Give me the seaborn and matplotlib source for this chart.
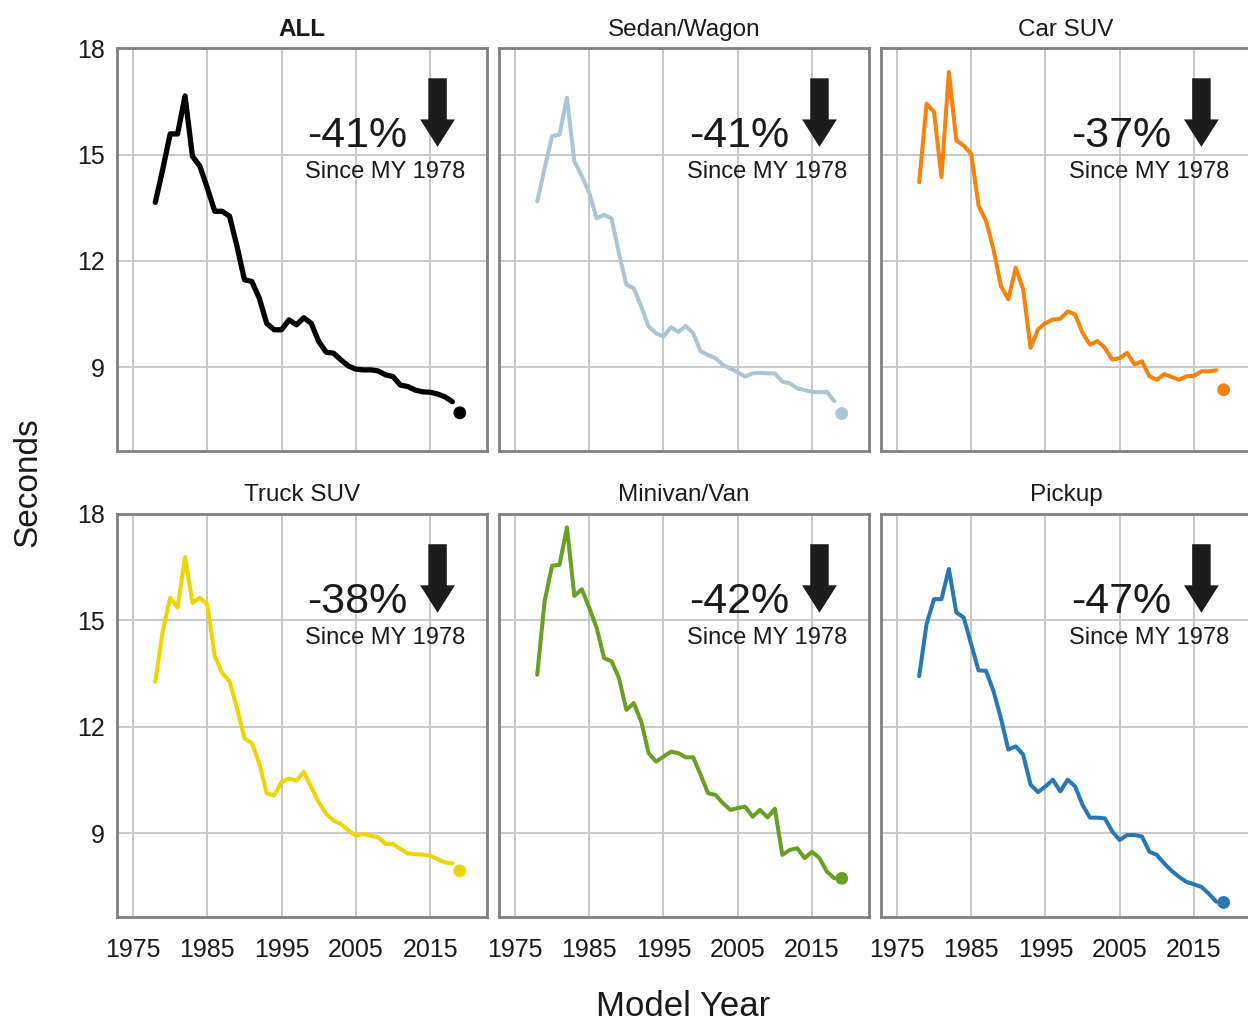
import numpy as np
import pandas as pd
import seaborn as sns
import matplotlib.pyplot as plt
from matplotlib.patches import FancyArrow

years = list(range(1978, 2019))
prelim_year = 2019

classes = ["ALL", "Sedan/Wagon", "Car SUV", "Truck SUV", "Minivan/Van", "Pickup"]
colors = ["#000000", "#a9c6d6", "#f8820c", "#f0d400", "#68a024", "#2878b8"]
pct_change = ["-41%", "-41%", "-37%", "-38%", "-42%", "-47%"]

all_vals = [13.65, 14.58, 15.58, 15.58, 16.65, 14.95, 14.67, 14.06, 13.4, 13.4,
            13.26, 12.41, 11.47, 11.42, 10.95, 10.24, 10.06, 10.06, 10.34, 10.2,
            10.4, 10.24, 9.73, 9.43, 9.4, 9.21, 9.04, 8.95, 8.93, 8.93,
            8.9, 8.79, 8.74, 8.5, 8.46, 8.36, 8.31, 8.3, 8.25, 8.17, 8.03]
sedan_vals = [13.68, 14.62, 15.52, 15.56, 16.6, 14.81, 14.39, 13.92, 13.2, 13.3,
              13.2, 12.22, 11.33, 11.23, 10.72, 10.15, 9.96, 9.87, 10.13, 10.0,
              10.17, 9.96, 9.45, 9.35, 9.26, 9.07, 8.97, 8.86, 8.74, 8.83,
              8.85, 8.83, 8.83, 8.6, 8.55, 8.41, 8.36, 8.31, 8.3, 8.31, 8.05]
car_suv_vals = [14.22, 16.43, 16.2, 14.36, 17.33, 15.4, 15.25, 15.02, 13.56, 13.13,
                12.33, 11.3, 10.92, 11.81, 11.2, 9.55, 10.07, 10.25, 10.35, 10.37,
                10.58, 10.49, 9.97, 9.64, 9.74, 9.55, 9.22, 9.26, 9.41, 9.08,
                9.17, 8.75, 8.65, 8.81, 8.73, 8.65, 8.75, 8.76, 8.89, 8.89, 8.92]
truck_suv_vals = [13.28, 14.7, 15.64, 15.36, 16.78, 15.5, 15.64, 15.45, 13.99, 13.52,
                  13.28, 12.53, 11.68, 11.54, 10.97, 10.12, 10.07, 10.45, 10.54, 10.49,
                  10.73, 10.3, 9.88, 9.55, 9.36, 9.26, 9.08, 8.93, 8.98, 8.93,
                  8.89, 8.7, 8.7, 8.56, 8.43, 8.41, 8.4, 8.37, 8.27, 8.18, 8.15]
minivan_vals = [13.47, 15.55, 16.54, 16.57, 17.62, 15.69, 15.88, 15.36, 14.79, 13.94,
                13.85, 13.38, 12.48, 12.67, 12.15, 11.26, 11.02, 11.16, 11.3, 11.26,
                11.14, 11.14, 10.65, 10.13, 10.08, 9.85, 9.66, 9.71, 9.75, 9.47,
                9.66, 9.45, 9.69, 8.39, 8.53, 8.58, 8.3, 8.48, 8.3, 7.92, 7.73]
pickup_vals = [13.43, 14.9, 15.6, 15.6, 16.45, 15.23, 15.08, 14.33, 13.59, 13.58,
               13.01, 12.25, 11.36, 11.45, 11.22, 10.37, 10.16, 10.32, 10.51, 10.18,
               10.51, 10.32, 9.8, 9.44, 9.44, 9.42, 9.05, 8.81, 8.95, 8.95,
               8.91, 8.48, 8.39, 8.15, 7.94, 7.77, 7.63, 7.56, 7.49, 7.3, 7.07]
prelim_vals = [7.72, 7.7, 8.37, 7.94, 7.73, 7.05]

series = [all_vals, sedan_vals, car_suv_vals, truck_suv_vals, minivan_vals, pickup_vals]

df = pd.concat([pd.DataFrame({"year": years, "seconds": v, "cls": c})
                for c, v in zip(classes, series)], ignore_index=True)
prelim_df = pd.DataFrame({"year": prelim_year, "seconds": prelim_vals, "cls": classes})

sns.set_style("whitegrid")
plt.rcParams["font.family"] = ["Liberation Sans", "DejaVu Sans"]
text_color = "#1a1a1a"

fig, axes = plt.subplots(2, 3, figsize=(12.48, 10.23), dpi=100, sharex=True, sharey=True)
fig.subplots_adjust(left=0.0938, right=1.0024, top=0.953, bottom=0.1036,
                    wspace=0.032, hspace=0.156)

for i, (ax, cls, col, pct) in enumerate(zip(axes.flat, classes, colors, pct_change)):
    sns.lineplot(data=df[df["cls"] == cls], x="year", y="seconds", color=col,
                 lw=3.8 if cls == "ALL" else 2.9, ax=ax)
    sns.scatterplot(data=prelim_df[prelim_df["cls"] == cls], x="year", y="seconds",
                    color=col, s=85, edgecolor="none", ax=ax, zorder=3)

    ax.set_xlim(1972.85, 2022.68)
    ax.set_ylim(6.64, 18)
    ax.set_xticks([1975, 1985, 1995, 2005, 2015])
    ax.set_yticks([9, 12, 15, 18])
    ax.set_xlabel("")
    ax.set_ylabel("")
    ax.grid(True, color="#c8c8c8", lw=1.4)
    for sp in ax.spines.values():
        sp.set_color("#808080")
        sp.set_linewidth(2)
    ax.tick_params(axis="y", direction="out", length=6, width=1.5, color="#808080",
                   labelsize=18, labelcolor=text_color, pad=3)
    ax.tick_params(axis="x", direction="out", length=7, width=1.5, color="#808080",
                   labelsize=18, labelcolor=text_color, pad=8)
    if i % 3 != 0:
        ax.tick_params(axis="y", length=0)
    if i < 3:
        ax.tick_params(axis="x", length=0)

    ax.set_title(cls, fontsize=17.5, color=text_color, pad=9,
                 fontweight="bold" if cls == "ALL" else "normal")

    ax.text(0.785, 0.755, pct, transform=ax.transAxes, ha="right", va="baseline",
            fontsize=31, color=text_color)
    ax.text(0.94, 0.678, "Since MY 1978", transform=ax.transAxes, ha="right",
            va="baseline", fontsize=17, color=text_color)
    ax.add_patch(FancyArrow(0.866, 0.925, 0, -0.17, width=0.05, head_width=0.094,
                            head_length=0.068, length_includes_head=True,
                            transform=ax.transAxes, color="#1c1c1c", lw=0))

fig.text(0.0225, 0.529, "Seconds", rotation=90, ha="center", va="center",
         fontsize=24, color=text_color)
fig.text(0.547, 0.007, "Model Year", ha="center", va="baseline",
         fontsize=25, color=text_color)

fig.savefig("out.png", dpi=100)
